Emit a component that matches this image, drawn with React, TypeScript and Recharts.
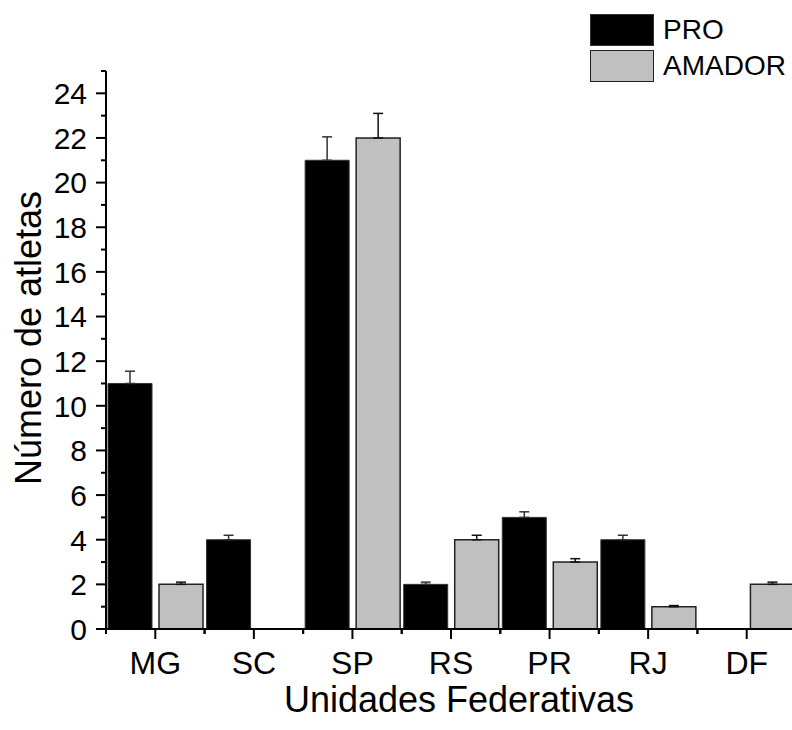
import { Bar, BarChart, ErrorBar, XAxis, YAxis } from "recharts";

const categories = ["MG", "SC", "SP", "RS", "PR", "RJ", "DF"];
const proValues = [11, 4, 21, 2, 5, 4, 0];
const amadorValues = [2, 0, 22, 4, 3, 1, 2];
const proErrors = [0.55, 0.2, 1.05, 0.1, 0.25, 0.2, 0];
const amadorErrors = [0.1, 0, 1.1, 0.2, 0.15, 0.05, 0.1];
const yTicks = [0, 1, 2, 3, 4, 5, 6, 7, 8, 9, 10, 11, 12, 13, 14, 15, 16, 17, 18, 19, 20, 21, 22, 23, 24, 25];
const yLabelled = [0, 2, 4, 6, 8, 10, 12, 14, 16, 18, 20, 22, 24];

const data = categories.map((uf, i) => ({
  uf,
  pro: proValues[i],
  amador: amadorValues[i],
  proErr: [0, proErrors[i]],
  amadorErr: [0, amadorErrors[i]]
}));

const FONT = '"Liberation Sans", Arial, sans-serif';

const YTick = ({ x, y, payload }: any) => {
  const major = yLabelled.includes(payload.value);
  return (
    <g>
      <line x1={x - (major ? 10 : 5)} x2={x} y1={y} y2={y} stroke="#000" strokeWidth={2} />
      {major && (
        <text x={x - 19} y={y} dy="0.36em" textAnchor="end" fontSize={30} fontFamily={FONT} fill="#000">
          {payload.value}
        </text>
      )}
    </g>
  );
};

const XTick = ({ x, y, payload }: any) => {
  const half = payload.offset || 49.3;
  return (
    <g>
      <line x1={x} x2={x} y1={y} y2={y + 10} stroke="#000" strokeWidth={2} />
      <line x1={x - half} x2={x - half} y1={y} y2={y + 5} stroke="#000" strokeWidth={2} />
      <line x1={x + half} x2={x + half} y1={y} y2={y + 5} stroke="#000" strokeWidth={2} />
      <text x={x} y={y + 45} textAnchor="middle" fontSize={32} fontFamily={FONT} fill="#000">
        {payload.value}
      </text>
    </g>
  );
};

const YTitle = () => (
  <text
    x={41}
    y={338}
    transform="rotate(-90, 41, 338)"
    textAnchor="middle"
    fontSize={36}
    fontFamily={FONT}
    fill="#000"
  >
    Número de atletas
  </text>
);

const XTitle = ({ viewBox }: any) => (
  <text
    x={viewBox.x + viewBox.width / 2 + 8}
    y={712}
    textAnchor="middle"
    fontSize={36}
    fontFamily={FONT}
    fill="#000"
  >
    Unidades Federativas
  </text>
);

const legendRows = [
  { name: "PRO", fill: "#000000", stroke: "#333" },
  { name: "AMADOR", fill: "#c0c0c0", stroke: "#222" }
];

const LegendBox = () => (
  <div
    style={{
      position: "absolute",
      top: 14,
      left: 590,
      fontFamily: FONT,
      fontSize: 28,
      lineHeight: "32px",
      color: "#000"
    }}
  >
    {legendRows.map((r) => (
      <div key={r.name} style={{ display: "flex", alignItems: "center", marginBottom: 4 }}>
        <div
          style={{
            width: 62,
            height: 30,
            background: r.fill,
            border: `1.5px solid ${r.stroke}`,
            marginRight: 9
          }}
        />
        <span>{r.name}</span>
      </div>
    ))}
  </div>
);

const App = () => {
  return (
    <div
      style={{
        position: "absolute",
        left: 0,
        top: 0,
        width: 792,
        height: 730,
        overflow: "hidden",
        background: "#fff"
      }}
    >
      <BarChart
        width={800}
        height={730}
        data={data}
        margin={{ top: 71, right: 4, left: 0, bottom: 0 }}
        barSize={44}
        barGap={7}
      >
        <XAxis
          dataKey="uf"
          height={101}
          axisLine={{ stroke: "#000", strokeWidth: 2 }}
          tickLine={false}
          tickSize={0}
          tickMargin={0}
          interval={0}
          tick={<XTick />}
          label={<XTitle />}
        />
        <YAxis
          width={106}
          domain={[0, 25]}
          ticks={yTicks}
          interval={0}
          axisLine={{ stroke: "#000", strokeWidth: 2 }}
          tickLine={false}
          tickSize={0}
          tickMargin={0}
          tick={<YTick />}
          label={<YTitle />}
        />
        <Bar dataKey="pro" name="PRO" fill="#000" stroke="#333" strokeWidth={1} isAnimationActive={false}>
          <ErrorBar dataKey="proErr" width={5} stroke="#333" strokeWidth={1.5} />
        </Bar>
        <Bar dataKey="amador" name="AMADOR" fill="#c0c0c0" stroke="#222" strokeWidth={1.5} isAnimationActive={false}>
          <ErrorBar dataKey="amadorErr" width={5} stroke="#111" strokeWidth={1.5} />
        </Bar>
      </BarChart>
      <LegendBox />
    </div>
  );
};

export default App;
